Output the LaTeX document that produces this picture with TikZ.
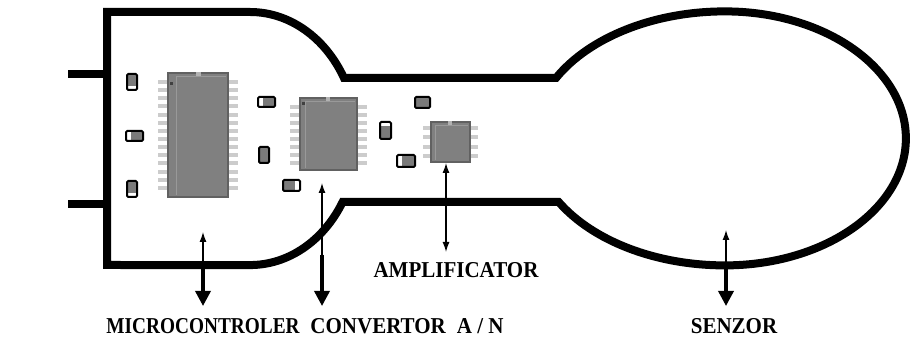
\documentclass[tikz,border=0pt]{standalone}
\usepackage{fontspec}
\setmainfont{Liberation Serif}
\usetikzlibrary{arrows.meta}
\begin{document}
\begin{tikzpicture}[x=1pt,y=1pt,
  outline/.style={line width=8pt, line join=miter, line cap=butt},
  stub/.style={line width=8pt},
  chipbody/.style={fill=black!50, draw=black!62, line width=1.4pt},
  chippin/.style={fill=black!20},
  smdfill/.style={fill=black!52},
  smdline/.style={draw=black, line width=2pt, rounded corners=1.2pt},
  thinarrow/.style={line width=1.3pt, -{Latex[length=10pt,width=7pt]}},
  thinboth/.style={line width=1.3pt, {Latex[length=10pt,width=7pt]}-{Latex[length=10pt,width=7pt]}},
  thickarrow/.style={line width=3.4pt, -{Triangle[length=15pt,width=15pt]}},
  lbl/.style={font=\bfseries\fontsize{21}{21}\selectfont, inner sep=0pt, anchor=base}
]
\useasboundingbox (0,0) rectangle (910,344);

% board outline: rectangular end, neck and round sensor head
\draw[outline]
  (250,332) arc[start angle=90, end angle=28.6, x radius=107, y radius=126.5]
  -- (556,266)
  arc[start angle=151.6, end angle=90, x radius=192, y radius=127]
  arc[start angle=90, end angle=-90, x radius=181, y radius=127]
  arc[start angle=270, end angle=210, x radius=192, y radius=127]
  -- (342.6,142)
  arc[start angle=-30.1, end angle=-90, x radius=107, y radius=126.5]
  -- (107,79) -- (107,332) -- cycle;

% connector stubs
\draw[stub] (68,270) -- (107,270);
\draw[stub] (68,140) -- (107,140);

% microcontroller (28 pins)
\foreach \i in {0,...,13}{
  \fill[chippin] (158,{262-\i*8.15-2}) rectangle ++(10,4);
  \fill[chippin] (228,{262-\i*8.15-2}) rectangle ++(10,4);
}
\filldraw[chipbody] (168,147) rectangle (228,271);
\draw[black!40, line width=0.8pt] (176,149) -- (176,268) -- (226,268);
\fill[black!30] (196,268) rectangle (201,272);
\fill[black!75] (170,259) rectangle (173,262);

% A/D converter (16 pins)
\foreach \i in {0,...,7}{
  \fill[chippin] (290,{237-\i*8-2}) rectangle ++(10,4);
  \fill[chippin] (357,{237-\i*8-2}) rectangle ++(10,4);
}
\filldraw[chipbody] (300,174) rectangle (357,246);
\draw[black!40, line width=0.8pt] (305,176) -- (305,243) -- (355,243);
\fill[black!30] (326,243) rectangle (330,247);
\fill[black!75] (302,239) rectangle (305,242);

% amplifier (8 pins)
\foreach \i in {0,...,3}{
  \fill[chippin] (423,{216-\i*9.33-2}) rectangle ++(8,4);
  \fill[chippin] (470,{216-\i*9.33-2}) rectangle ++(8,4);
}
\filldraw[chipbody] (431,182) rectangle (470,222);
\draw[black!40, line width=0.8pt] (435,184) -- (435,219) -- (468,219);
\fill[black!30] (448,219) rectangle (452,223);

% small SMD parts
\fill[smdfill] (127,254) rectangle (137,270); \fill[white] (127,254) rectangle (137,258); \draw[smdline] (127,254) rectangle (137,270);
\fill[smdfill] (126,203) rectangle (143,213); \fill[white] (126,203) rectangle (131,213); \draw[smdline] (126,203) rectangle (143,213);
\fill[smdfill] (127,147) rectangle (137,163); \fill[white] (127,147) rectangle (137,151); \draw[smdline] (127,147) rectangle (137,163);
\fill[smdfill] (258,237) rectangle (275,247); \fill[white] (258,237) rectangle (263,247); \draw[smdline] (258,237) rectangle (275,247);
\fill[smdfill] (259,181) rectangle (269,197); \draw[smdline] (259,181) rectangle (269,197);
\fill[smdfill] (283,153) rectangle (300,164); \fill[white] (295,153) rectangle (300,164); \draw[smdline] (283,153) rectangle (300,164);
\fill[smdfill] (415,236) rectangle (430,247); \draw[smdline] (415,236) rectangle (430,247);
\fill[smdfill] (380,205) rectangle (391,222); \fill[white] (380,218) rectangle (391,222); \draw[smdline] (380,205) rectangle (391,222);
\fill[smdfill] (397,177) rectangle (415,189); \fill[white] (397,177) rectangle (402,189); \draw[smdline] (397,177) rectangle (415,189);

% labels
\node[lbl] (mc)   at (203,10) {\scalebox{0.92}[1.08]{MICROCONTROLER}};
\node[lbl] (conv) at (407,10) {\scalebox{1}[1.08]{CONVERTOR\hspace{11pt}A / N}};
\node[lbl] (amp)  at (456,66) {\scalebox{1}[1.08]{AMPLIFICATOR}};
\node[lbl] (sen)  at (734,10) {\scalebox{1}[1.08]{SENZOR}};

% pointer arrows
\coordinate (mcjoin)  at (203,79);
\coordinate (mctip)   at (203,112);
\coordinate (mcend)   at (203,38);
\coordinate (cvjoin)  at (322,89);
\coordinate (cvtip)   at (322,161);
\coordinate (cvend)   at (322,38);
\coordinate (amptop)  at (446,181);
\coordinate (ampbot)  at (446,92);
\coordinate (snjoin)  at (726,82);
\coordinate (sntip)   at (726,114);
\coordinate (snend)   at (726,38);

\draw[thinarrow]  (mcjoin) -- (mctip);
\draw[thickarrow] (mcjoin) -- (mcend);
\draw[thinarrow]  (cvjoin) -- (cvtip);
\draw[thickarrow] (cvjoin) -- (cvend);
\draw[thinboth]   (ampbot) -- (amptop);
\draw[thinarrow]  (snjoin) -- (sntip);
\draw[thickarrow] (snjoin) -- (snend);
\end{tikzpicture}
\end{document}
